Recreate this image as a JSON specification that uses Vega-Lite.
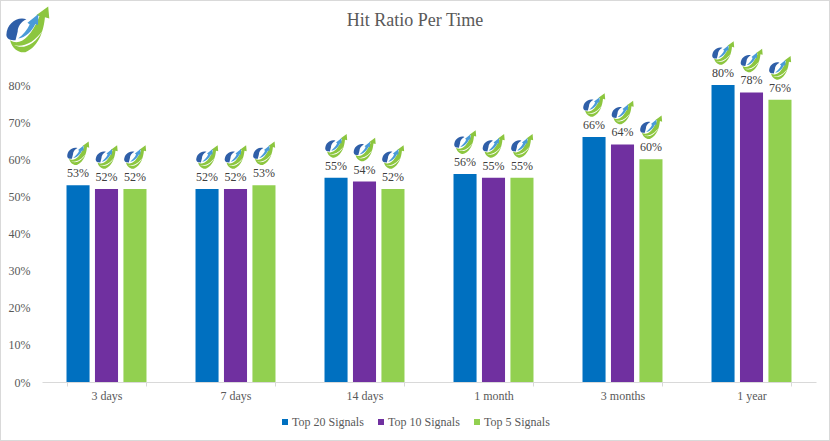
{
  "$schema": "https://vega.github.io/schema/vega-lite/v6.json",
  "title": {"text": "Hit  Ratio Per Time", "font": "Liberation Serif", "fontSize": 18, "fontWeight": "normal", "color": "#595959", "anchor": "middle", "offset": -30},
  "width": 830,
  "height": 441,
  "padding": 0,
  "autosize": "none",
  "background": "white",
  "config": {"view": {"stroke": "#d9d9d9", "strokeWidth": 2}},
  "data": {"values": [
    {"period": "3 days", "series": "Top 20 Signals", "value": 0.53, "label": "53%"},
    {"period": "3 days", "series": "Top 10 Signals", "value": 0.52, "label": "52%"},
    {"period": "3 days", "series": "Top 5 Signals", "value": 0.52, "label": "52%"},
    {"period": "7 days", "series": "Top 20 Signals", "value": 0.52, "label": "52%"},
    {"period": "7 days", "series": "Top 10 Signals", "value": 0.52, "label": "52%"},
    {"period": "7 days", "series": "Top 5 Signals", "value": 0.53, "label": "53%"},
    {"period": "14 days", "series": "Top 20 Signals", "value": 0.55, "label": "55%"},
    {"period": "14 days", "series": "Top 10 Signals", "value": 0.54, "label": "54%"},
    {"period": "14 days", "series": "Top 5 Signals", "value": 0.52, "label": "52%"},
    {"period": "1 month", "series": "Top 20 Signals", "value": 0.56, "label": "56%"},
    {"period": "1 month", "series": "Top 10 Signals", "value": 0.55, "label": "55%"},
    {"period": "1 month", "series": "Top 5 Signals", "value": 0.55, "label": "55%"},
    {"period": "3 months", "series": "Top 20 Signals", "value": 0.66, "label": "66%"},
    {"period": "3 months", "series": "Top 10 Signals", "value": 0.64, "label": "64%"},
    {"period": "3 months", "series": "Top 5 Signals", "value": 0.60, "label": "60%"},
    {"period": "1 year", "series": "Top 20 Signals", "value": 0.80, "label": "80%"},
    {"period": "1 year", "series": "Top 10 Signals", "value": 0.78, "label": "78%"},
    {"period": "1 year", "series": "Top 5 Signals", "value": 0.76, "label": "76%"}
  ]},
  "encoding": {
    "x": {
      "field": "period",
      "type": "nominal",
      "title": null,
      "scale": {
        "domain": ["3 days", "7 days", "14 days", "1 month", "3 months", "1 year"],
        "range": [42, 816],
        "paddingInner": 0.38,
        "paddingOuter": 0.19
      },
      "axis": {
        "offset": -59,
        "tickBand": "extent",
        "labelAngle": 0,
        "labelFont": "Liberation Serif",
        "labelFontSize": 12,
        "labelColor": "#595959",
        "labelPadding": 4,
        "domainColor": "#d9d9d9",
        "tickColor": "#d9d9d9",
        "tickSize": 4
      }
    },
    "y": {
      "field": "value",
      "type": "quantitative",
      "title": null,
      "scale": {"domain": [0, 0.8], "range": [382, 85]},
      "axis": {
        "offset": -35,
        "format": ".0%",
        "values": [0, 0.1, 0.2, 0.3, 0.4, 0.5, 0.6, 0.7, 0.8],
        "domain": false,
        "ticks": false,
        "grid": false,
        "labelFont": "Liberation Serif",
        "labelFontSize": 12,
        "labelColor": "#595959",
        "labelPadding": 5
      }
    }
  },
  "layer": [
    {
      "encoding": {
        "xOffset": {
          "field": "series",
          "type": "nominal",
          "sort": ["Top 20 Signals", "Top 10 Signals", "Top 5 Signals"],
          "scale": {"paddingInner": 0.19, "paddingOuter": 0}
        }
      },
      "layer": [
        {
          "mark": {"type": "bar"},
          "encoding": {
            "color": {
              "field": "series",
              "type": "nominal",
              "title": null,
              "sort": ["Top 20 Signals", "Top 10 Signals", "Top 5 Signals"],
              "scale": {
                "domain": ["Top 20 Signals", "Top 10 Signals", "Top 5 Signals"],
                "range": ["#0070c0", "#7030a0", "#92d050"]
              },
              "legend": {
                "orient": "none",
                "legendX": 279,
                "legendY": 416,
                "direction": "horizontal",
                "symbolType": "square",
                "symbolSize": 36,
                "symbolStrokeWidth": 0,
                "columnPadding": 11,
                "labelFont": "Liberation Serif",
                "labelFontSize": 12,
                "labelColor": "#595959",
                "labelOffset": 1
              }
            }
          }
        },
        {
          "mark": {"type": "point", "filled": true, "opacity": 1, "yOffset": -32, "size": 500, "color": "#8cc63f",
            "shape": "M-0.8,0.5 C-0.4,0.75 0.1,0.5 0.55,-0.6 L0.4,-0.65 L0.95,-1.05 L1,-0.5 L0.8,-0.55 C0.75,0 0.55,0.8 -0.1,1.05 C-0.4,1.1 -0.7,0.9 -0.8,0.5 Z"}
        },
        {
          "mark": {"type": "point", "filled": true, "opacity": 1, "yOffset": -32, "size": 500, "color": "#ffffff",
            "shape": "M-0.62,0.72 C-0.2,0.85 0.3,0.6 0.7,0.05 C0.35,0.7 -0.2,0.95 -0.62,0.72 Z"}
        },
        {
          "mark": {"type": "point", "filled": true, "opacity": 1, "yOffset": -32, "size": 500, "color": "#2f5fa8",
            "shape": "M-0.97,0.26 C-0.95,-0.25 -0.5,-0.6 -0.05,-0.46 C-0.3,-0.35 -0.45,-0.1 -0.45,0.1 L-0.55,0.5 C-0.8,0.5 -0.95,0.45 -0.97,0.26 Z"}
        },
        {
          "mark": {"type": "point", "filled": true, "opacity": 1, "yOffset": -32, "size": 500, "color": "#4a9bd8",
            "shape": "M-0.43,0.42 C-0.2,0.25 0,0 0.1,-0.22 L0,-0.3 L0.5,-0.7 L0.48,-0.2 L0.36,-0.24 C0.2,0.1 -0.1,0.4 -0.43,0.42 Z"}
        },
        {
          "mark": {"type": "text", "baseline": "bottom", "dy": -5, "font": "Liberation Serif", "fontSize": 12, "color": "#404040"},
          "encoding": {"text": {"field": "label", "type": "nominal"}}
        }
      ]
    },
    {
      "data": {"values": [{"period": "3 days", "value": 0.95}]},
      "layer": [
        {
          "mark": {"type": "point", "filled": true, "opacity": 1, "xOffset": -79, "size": 1900, "color": "#8cc63f",
            "shape": "M-0.8,0.5 C-0.4,0.75 0.1,0.5 0.55,-0.6 L0.4,-0.65 L0.95,-1.05 L1,-0.5 L0.8,-0.55 C0.75,0 0.55,0.8 -0.1,1.05 C-0.4,1.1 -0.7,0.9 -0.8,0.5 Z"}
        },
        {
          "mark": {"type": "point", "filled": true, "opacity": 1, "xOffset": -79, "size": 1900, "color": "#ffffff",
            "shape": "M-0.62,0.72 C-0.2,0.85 0.3,0.6 0.7,0.05 C0.35,0.7 -0.2,0.95 -0.62,0.72 Z"}
        },
        {
          "mark": {"type": "point", "filled": true, "opacity": 1, "xOffset": -79, "size": 1900, "color": "#2f5fa8",
            "shape": "M-0.97,0.26 C-0.95,-0.25 -0.5,-0.6 -0.05,-0.46 C-0.3,-0.35 -0.45,-0.1 -0.45,0.1 L-0.55,0.5 C-0.8,0.5 -0.95,0.45 -0.97,0.26 Z"}
        },
        {
          "mark": {"type": "point", "filled": true, "opacity": 1, "xOffset": -79, "size": 1900, "color": "#4a9bd8",
            "shape": "M-0.43,0.42 C-0.2,0.25 0,0 0.1,-0.22 L0,-0.3 L0.5,-0.7 L0.48,-0.2 L0.36,-0.24 C0.2,0.1 -0.1,0.4 -0.43,0.42 Z"}
        }
      ]
    }
  ]
}
